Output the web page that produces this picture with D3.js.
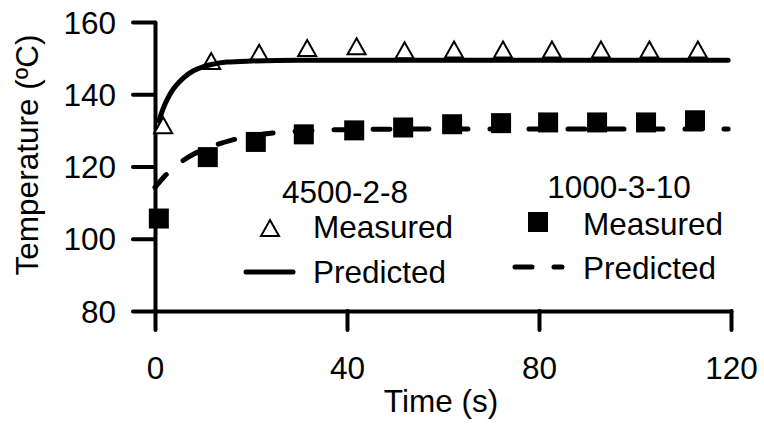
<!DOCTYPE html>
<html>
<head>
<meta charset="utf-8">
<script src="https://cdn.jsdelivr.net/npm/d3@7"></script>
<style>
  body { margin: 0; background: #fff; }
  text { font-family: "Liberation Sans", Arial, sans-serif; fill: #000; }
</style>
</head>
<body>
<div id="chart"></div>
<script>
// Chart data
var xTicks = [0, 40, 80, 120];
var yTicks = [80, 100, 120, 140, 160];

// 4500-2-8 measured (triangles)
var measA_t = [1.7, 11.7, 21.7, 31.7, 42, 52, 62.3, 72.5, 82.7, 92.9, 103, 113.1];
var measA_T = [131.4, 149.2, 151.5, 152.8, 153.3, 152.2, 152.4, 152.4, 152.4, 152.4, 152.4, 152.4];

// 1000-3-10 measured (squares)
var measB_t = [0.8, 11, 21, 31, 41.5, 51.7, 61.9, 72.1, 81.9, 92.1, 102.3, 112.5];
var measB_T = [105.6, 122.6, 126.8, 128.9, 130, 130.8, 131.7, 132, 132.2, 132.2, 132.2, 132.8];

// 4500-2-8 predicted (solid)
var predA_t = [0.8, 2, 3, 4, 5, 6, 8, 10, 12, 15, 20, 30, 60, 119.4];
var predA_T = [132.6, 137, 139.7, 141.8, 143.3, 144.6, 146.5, 147.6, 148.3, 148.9, 149.2, 149.4, 149.4, 149.4];

// 1000-3-10 predicted (dashed)
var predB_t = [0, 2, 4, 6, 8, 10, 13, 16, 20, 25, 30, 40, 60, 119.4];
var predB_T = [114.2, 117.3, 119.8, 121.8, 123.4, 124.6, 126.1, 127.3, 128.4, 129.3, 129.8, 130.2, 130.4, 130.4];

var svgWidth = 764;
var svgHeight = 428;
var fontSize = "31.5px";

var svg = d3.select("#chart")
    .append("svg")
    .attr("width", svgWidth)
    .attr("height", svgHeight);

var xScale = d3.scaleLinear().domain([0, 120]).range([155, 731]);
var yScale = d3.scaleLinear().domain([80, 160]).range([311, 22]);

function zip(ts, vs) {
    return ts.map(function(t, i) { return { t: t, v: vs[i] }; });
}

// axes
var bottomAxis = d3.axisBottom(xScale)
    .tickValues(xTicks)
    .tickSize(19)
    .tickSizeOuter(0)
    .tickPadding(27);

var leftAxis = d3.axisLeft(yScale)
    .tickValues(yTicks)
    .tickSize(22)
    .tickSizeOuter(0)
    .tickPadding(17);

var xAxisG = svg.append("g")
    .attr("transform", `translate(0, ${yScale(80)})`)
    .call(bottomAxis);

var yAxisG = svg.append("g")
    .attr("transform", `translate(${xScale(0)}, 0)`)
    .call(leftAxis);

[xAxisG, yAxisG].forEach(function(g) {
    g.selectAll("path, line")
        .attr("stroke", "#000")
        .attr("stroke-width", 4)
        .attr("stroke-linecap", "round");
    g.selectAll("text")
        .style("font-size", fontSize)
        .attr("fill", "#000");
});
yAxisG.selectAll("text").attr("dy", "0.35em");

// markers
function triPath(cx, cy) {
    var w = 9, h = 8;
    return `M${cx},${cy - h}L${cx + w},${cy + h}L${cx - w},${cy + h}Z`;
}

svg.append("g").selectAll("path")
    .data(zip(measA_t, measA_T))
    .enter()
    .append("path")
    .attr("d", d => triPath(xScale(d.t), yScale(d.v)))
    .attr("fill", "#fff")
    .attr("stroke", "#000")
    .attr("stroke-width", 2);

svg.append("g").selectAll("rect")
    .data(zip(measB_t, measB_T))
    .enter()
    .append("rect")
    .attr("x", d => xScale(d.t) - 10)
    .attr("y", d => yScale(d.v) - 10)
    .attr("width", 20)
    .attr("height", 20)
    .attr("fill", "#000");

// predicted lines
var line = d3.line()
    .x(d => xScale(d.t))
    .y(d => yScale(d.v))
    .curve(d3.curveMonotoneX);

svg.append("path")
    .datum(zip(predA_t, predA_T))
    .attr("d", line)
    .attr("fill", "none")
    .attr("stroke", "#000")
    .attr("stroke-width", 5)
    .attr("stroke-linecap", "round");

svg.append("path")
    .datum(zip(predB_t, predB_T))
    .attr("d", line)
    .attr("fill", "none")
    .attr("stroke", "#000")
    .attr("stroke-width", 5)
    .attr("stroke-linecap", "round")
    .attr("stroke-dasharray", "17,22");

// legend
var legend = svg.append("g").style("font-size", fontSize);

legend.append("text").attr("x", 345).attr("y", 203).attr("text-anchor", "middle").text("4500-2-8");
legend.append("path").attr("d", triPath(270, 228))
    .attr("fill", "#fff").attr("stroke", "#000").attr("stroke-width", 2);
legend.append("text").attr("x", 313).attr("y", 238).text("Measured");
legend.append("line").attr("x1", 246).attr("x2", 293).attr("y1", 272).attr("y2", 272)
    .attr("stroke", "#000").attr("stroke-width", 5).attr("stroke-linecap", "round");
legend.append("text").attr("x", 313).attr("y", 283).text("Predicted");

legend.append("text").attr("x", 619).attr("y", 198).attr("text-anchor", "middle").text("1000-3-10");
legend.append("rect").attr("x", 528).attr("y", 212).attr("width", 20).attr("height", 20).attr("fill", "#000");
legend.append("text").attr("x", 583).attr("y", 235).text("Measured");
legend.append("line").attr("x1", 515).attr("x2", 562).attr("y1", 267).attr("y2", 267)
    .attr("stroke", "#000").attr("stroke-width", 5).attr("stroke-linecap", "round")
    .attr("stroke-dasharray", "17,22");
legend.append("text").attr("x", 583).attr("y", 279).text("Predicted");

// axis titles
svg.append("text")
    .attr("x", 441)
    .attr("y", 412)
    .attr("text-anchor", "middle")
    .style("font-size", fontSize)
    .text("Time (s)");

svg.append("text")
    .attr("transform", "translate(38, 155) rotate(-90)")
    .attr("text-anchor", "middle")
    .style("font-size", fontSize)
    .text("Temperature (ºC)");
</script>
</body>
</html>
